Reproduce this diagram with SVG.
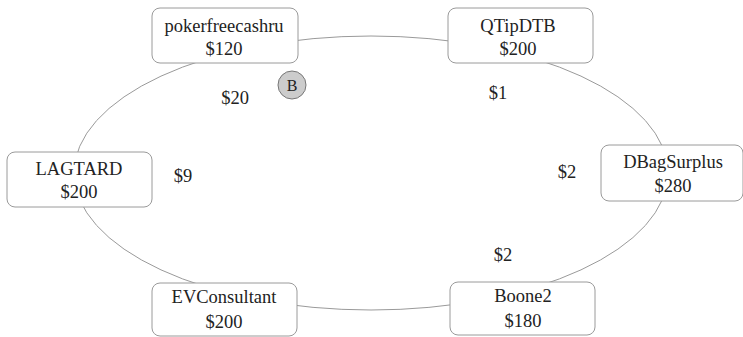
<svg xmlns="http://www.w3.org/2000/svg" width="743" height="337" viewBox="0 0 743 337">
  <style>
    .seat rect { fill: #ffffff; stroke: #9a9a9a; stroke-width: 1; }
    text { font-family: "Liberation Serif", "Times New Roman", serif; font-size: 18.5px; fill: #222; text-anchor: middle; }
    .table { fill: none; stroke: #9a9a9a; stroke-width: 1; }
  </style>
  <rect width="743" height="337" fill="#ffffff"/>

  <!-- table outline connecting the seats -->
  <g id="connectors">
    <ellipse class="table" cx="371" cy="173" rx="297" ry="137"/>
  </g>

  <!-- bets and dealer button -->
  <g id="bets">
    <text x="235" y="104">$20</text>
    <text x="498" y="99">$1</text>
    <text x="183" y="182">$9</text>
    <text x="567" y="178">$2</text>
    <text x="503" y="261">$2</text>
  </g>
  <g id="button">
    <circle cx="292" cy="85" r="14" fill="#cccccc" stroke="#777777" stroke-width="1"/>
    <text x="292" y="91" style="font-size:16px">B</text>
  </g>

  <g id="seat-pokerfreecashru" class="seat">
    <rect x="152" y="8" width="146" height="55" rx="8"/>
    <text x="224" y="32">pokerfreecashru</text>
    <text x="224" y="55">$120</text>
  </g>
  <g id="seat-QTipDTB" class="seat">
    <rect x="448" y="8" width="145" height="55" rx="8"/>
    <text x="518" y="32">QTipDTB</text>
    <text x="518" y="55">$200</text>
  </g>
  <g id="seat-LAGTARD" class="seat">
    <rect x="7" y="152" width="145" height="55" rx="8"/>
    <text x="79" y="175">LAGTARD</text>
    <text x="79" y="198">$200</text>
  </g>
  <g id="seat-DBagSurplus" class="seat">
    <rect x="601" y="145" width="142" height="56" rx="8"/>
    <text x="673" y="168">DBagSurplus</text>
    <text x="673" y="192">$280</text>
  </g>
  <g id="seat-EVConsultant" class="seat">
    <rect x="152" y="283" width="145" height="53" rx="8"/>
    <text x="224" y="303">EVConsultant</text>
    <text x="224" y="328">$200</text>
  </g>
  <g id="seat-Boone2" class="seat">
    <rect x="450" y="282" width="145" height="53" rx="8"/>
    <text x="523" y="302">Boone2</text>
    <text x="523" y="327">$180</text>
  </g>
</svg>
